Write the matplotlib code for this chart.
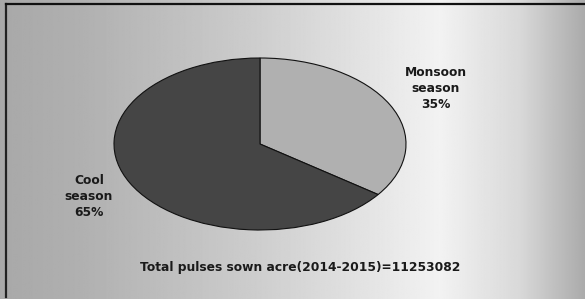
import numpy as np
import matplotlib
matplotlib.use("Agg")
import matplotlib.pyplot as plt
from matplotlib.lines import Line2D

# Data
labels = ["Monsoon\nseason", "Cool\nseason"]
shares = [35, 65]
colors = ["#b0b0b0", "#454545"]
footer = "Total pulses sown acre(2014-2015)=11253082"

W, H = 585, 299
fig = plt.figure(figsize=(W / 100, H / 100), dpi=100)

# background gradient
bg = fig.add_axes([0, 0, 1, 1])
bg.set_axis_off()
xs = np.linspace(0, W, 600)
prof = np.interp(xs, [0, 80, 250, 440, 520, 585], [0.66, 0.69, 0.80, 0.95, 0.85, 0.67])
img = np.tile(prof, (10, 1))
bg.imshow(img, cmap="gray", vmin=0, vmax=1, aspect="auto", extent=[0, W, 0, H])
bg.set_xlim(0, W)
bg.set_ylim(0, H)
bg.add_line(Line2D([5.5, 5.5], [2, H - 3.5], color="#222222", lw=1.6))
bg.add_line(Line2D([5.5, W], [H - 3.5, H - 3.5], color="#111111", lw=1.6))

# pie axes (elliptical)
cx, cy, rx, ry = 260, H - 144, 146, 86
ax = fig.add_axes([(cx - rx) / W, (cy - ry) / H, 2 * rx / W, 2 * ry / H])
wedges, _ = ax.pie(shares, colors=colors, startangle=90, counterclock=False,
                   wedgeprops=dict(edgecolor="#111111", linewidth=0.8))
ax.set_aspect("auto")
ax.set_xlim(-1, 1)
ax.set_ylim(-1, 1)

fs = 8.8
fp = dict(family="DejaVu Sans", fontweight="bold", fontsize=fs, color="#1a1a1a",
          ha="center", va="center", linespacing=1.3)
fig.text(436 / W, 1 - 89 / H, f"{labels[0]}\n{shares[0]}%", **fp)
fig.text(89 / W, 1 - 197 / H, f"{labels[1]}\n{shares[1]}%", **fp)
fig.text(300 / W, 1 - 268 / H, footer, **fp)

fig.savefig("out.png", dpi=100)
